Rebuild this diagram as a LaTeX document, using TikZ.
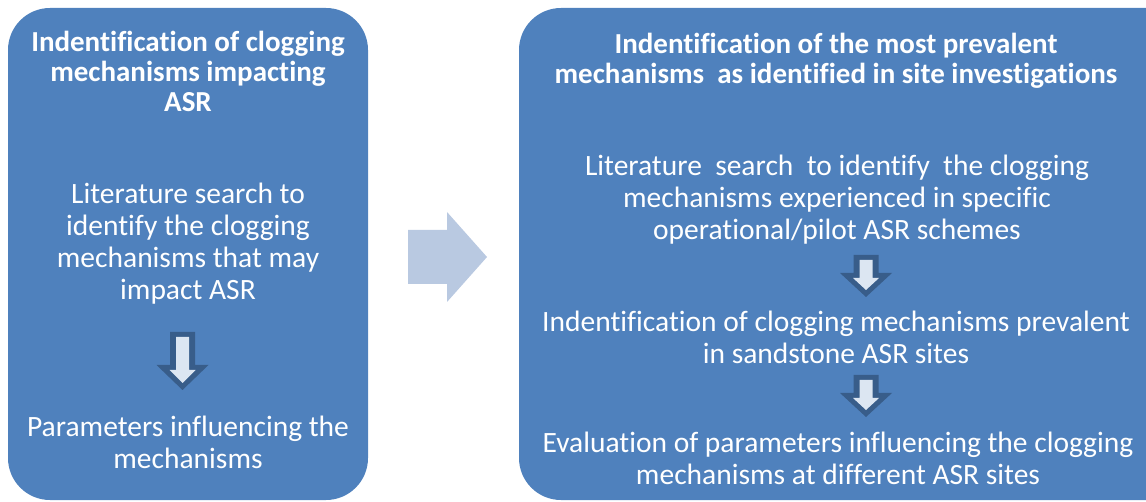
\documentclass[tikz,border=0pt]{standalone}
\usepackage{fontspec}
\setmainfont{Carlito}[Ligatures=NoCommon]
\begin{document}
\begin{tikzpicture}[x=1bp,y=-1bp,
  panel/.style={fill=panelblue,rounded corners=42bp},
  ttl/.style={text=white,align=center,inner sep=0pt,font=\bfseries\fontsize{29bp}{30bp}\selectfont},
  body/.style={text=white,align=center,inner sep=0pt,font=\fontsize{29.5bp}{32bp}\selectfont},
  arrowrim/.style={fill=arrowdark},
  arrowcore/.style={fill=arrowlight},
  bigarrow/.style={fill=arrowpale}]
\definecolor{panelblue}{HTML}{4F81BD}
\definecolor{arrowdark}{HTML}{385D8A}
\definecolor{arrowlight}{HTML}{DCE6F2}
\definecolor{arrowpale}{HTML}{B9C9E1}
% block arrow pointing down: #1 centre x, #2 top y, #3 y where the head starts, #4 tip y
\newcommand\blockdown[4]{%
  \fill[arrowrim] (#1-12.5,#2) -- (#1+12.5,#2) -- (#1+12.5,#3) -- (#1+26,#3)
     -- (#1,#4) -- (#1-26,#3) -- (#1-12.5,#3) -- cycle;
  \fill[arrowcore] (#1-6.5,#2+5) -- (#1+6.5,#2+5) -- (#1+6.5,#3+5) -- (#1+13,#3+5)
     -- (#1,#4-7) -- (#1-13,#3+5) -- (#1-6.5,#3+5) -- cycle;}
\useasboundingbox (0,0) rectangle (1146,502);
\clip (0,0) rectangle (1146,502);

% left panel
\fill[panel] (8,8) rectangle (368,500);
\node[ttl]  (lt) at (188,71)  {Indentification of clogging\\mechanisms impacting\\ASR};
\node[body] (lb1) at (188,244) {Literature search to\\identify the clogging\\mechanisms that may\\impact ASR};
\blockdown{182.5}{332}{365}{390}
\node[body] (lb2) at (188,442) {Parameters influencing the\\mechanisms};

% arrow between the panels
\fill[bigarrow] (408,230) -- (447,230) -- (447,212) -- (487,257) -- (447,302)
   -- (447,284) -- (408,284) -- cycle;

% right panel
\fill[panel] (519,8) rectangle (1190,500);
\node[ttl]  (rt) at (836,61)  {Indentification of the most prevalent\\mechanisms\ \ as identified in site investigations};
\node[body] (rb1) at (837,200) {Literature\ \ search\ \ to identify\ \ the clogging\\mechanisms experienced in specific\\operational/pilot ASR schemes};
\blockdown{866}{255}{273}{297}
\node[body] (rb2) at (836,337) {Indentification of clogging mechanisms prevalent\\in sandstone ASR sites};
\blockdown{866}{375}{393}{417}
\node[body] (rb3) at (838,458) {Evaluation of parameters influencing the clogging\\mechanisms at different ASR sites};
\end{tikzpicture}
\end{document}
